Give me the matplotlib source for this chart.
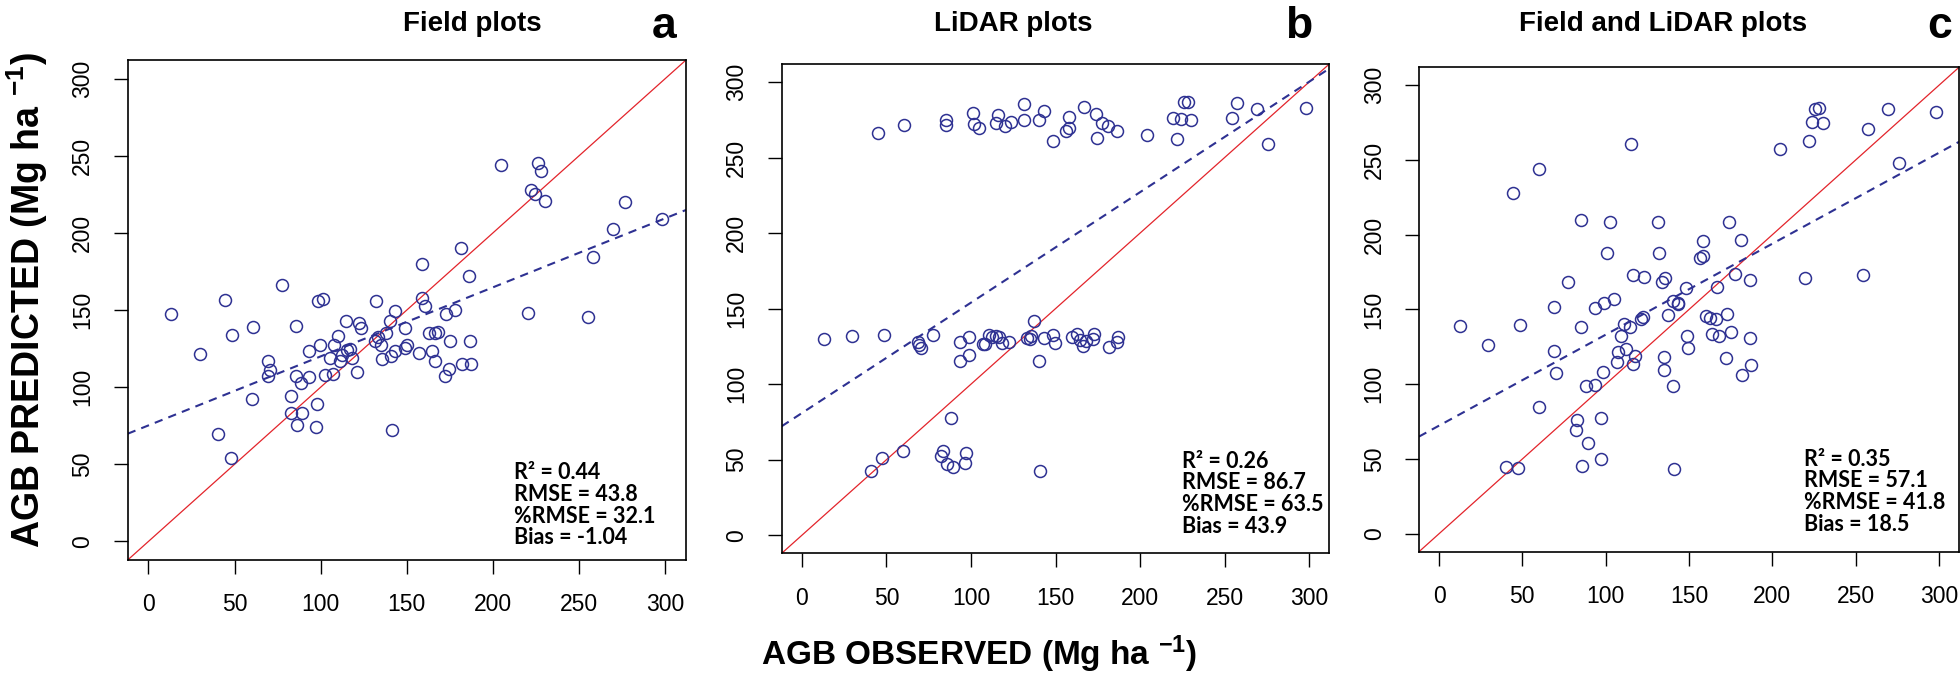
import matplotlib
matplotlib.use("Agg")
import matplotlib.pyplot as plt

# --- data (observed vs predicted AGB, Mg/ha) ---
obs_a = [12.9, 29.7, 40.6, 44.7, 47.7, 48.8, 60.0, 60.6, 69.4, 70.3, 69.2, 77.6,
         82.5, 83.0, 85.5, 85.5, 86.0, 88.3, 89.4, 93.5, 93.5, 97.1, 97.8, 98.6,
         99.5, 101.2, 102.3, 105.3, 107.2, 107.7, 109.8, 111.1, 112.2, 114.8, 115.2,
         116.9, 118.0, 120.8, 122.5, 123.6, 132.0, 131.5, 133.5, 135.0, 135.6, 138.0,
         140.1, 140.8, 141.4, 143.1, 143.3, 148.7, 148.7, 150.2, 156.9, 158.6, 158.6,
         160.5, 162.9, 164.4, 166.3, 166.6, 168.1, 172.4, 173.0, 174.5, 175.2, 178.0,
         181.6, 181.8, 186.3, 186.5, 187.2, 204.6, 220.1, 221.8, 224.4, 226.1, 227.8,
         230.4, 255.1, 258.1, 269.5, 276.4, 298.3]
pred_a = [147.7, 121.5, 69.8, 156.8, 53.9, 133.5, 92.6, 139.0, 117.2, 111.1, 107.5, 166.0,
          94.5, 83.0, 139.5, 107.0, 75.8, 102.7, 83.0, 123.2, 106.6, 74.3, 88.8, 155.6,
          127.3, 157.3, 108.0, 118.8, 108.7, 127.5, 133.0, 116.7, 120.8, 142.6, 123.9,
          124.6, 118.8, 109.7, 141.7, 138.6, 155.9, 129.9, 132.8, 127.0, 118.4, 135.2,
          143.1, 120.3, 72.2, 123.2, 149.1, 138.1, 125.6, 127.0, 122.2, 179.5, 157.8,
          152.3, 135.0, 123.2, 135.4, 116.7, 135.7, 107.5, 147.2, 111.9, 129.9, 149.9,
          190.3, 115.2, 172.2, 129.9, 115.0, 244.2, 148.2, 227.8, 225.4, 245.4, 239.8,
          220.6, 145.5, 184.3, 202.5, 219.9, 208.8]

obs_b = [44.8, 60.5, 85.4, 85.4, 100.9, 102.0, 105.0, 114.8, 115.9, 120.3, 123.6, 131.4,
         131.4, 140.0, 143.0, 148.3, 156.3, 158.1, 158.1, 166.6, 174.0, 174.7, 177.3,
         181.2, 186.2, 204.4, 219.7, 221.8, 224.0, 226.0, 228.2, 229.9, 254.4, 257.6,
         269.0, 275.8, 298.0,
         13.1, 29.7, 48.7, 68.8, 69.4, 70.5, 77.5, 93.2, 93.2, 98.7, 98.7, 107.2, 108.5,
         110.7, 112.4, 114.6, 116.4, 118.1, 122.5, 133.4, 134.7, 135.6, 137.3, 140.0,
         143.0, 148.7, 149.6, 159.6, 162.7, 164.4, 166.2, 168.3, 172.7, 172.3, 181.4,
         186.2, 186.9,
         40.6, 47.6, 60.0, 88.0, 82.5, 83.2, 85.8, 89.3, 97.2, 96.7, 141.0]
pred_b = [266.0, 271.6, 275.1, 271.4, 279.7, 272.6, 269.7, 273.1, 278.2, 271.1, 273.3, 285.8,
          274.6, 274.6, 280.9, 260.9, 267.7, 269.4, 277.0, 283.6, 279.2, 262.8, 273.1,
          270.9, 267.7, 264.8, 276.3, 262.6, 275.6, 286.6, 286.6, 275.1, 276.0, 286.1,
          282.2, 259.2, 283.0,
          130.1, 132.0, 132.3, 127.6, 125.9, 124.0, 132.8, 127.9, 115.4, 131.3, 119.3,
          126.9, 126.9, 132.5, 131.5, 132.0, 131.3, 127.1, 127.6, 130.8, 129.6, 132.0,
          141.8, 115.6, 130.8, 132.5, 127.1, 131.5, 133.3, 129.1, 125.2, 128.9, 133.0,
          130.1, 124.4, 127.6, 131.3,
          42.8, 51.3, 55.7, 77.8, 52.6, 55.5, 47.2, 45.2, 54.3, 47.7, 42.8]

obs_c = [12.6, 29.5, 40.3, 44.4, 47.4, 48.4, 59.7, 60.2, 68.8, 69.1, 70.1, 77.4, 82.4,
         82.7, 85.2, 85.2, 85.5, 88.2, 89.2, 93.3, 93.3, 97.1, 97.3, 98.6, 99.1, 100.8,
         102.3, 105.1, 106.9, 107.1, 109.4, 110.9, 112.2, 114.7, 114.9, 116.2, 116.5,
         117.7, 121.0, 122.3, 123.0, 131.3, 131.8, 133.9, 134.9, 135.1, 135.6, 137.6,
         140.2, 140.2, 141.2, 143.2, 143.4, 148.2, 148.7, 149.5, 156.8, 158.3, 158.6,
         160.1, 162.8, 163.9, 166.4, 166.9, 167.9, 171.9, 172.7, 173.9, 174.9, 177.7,
         181.0, 181.7, 186.3, 186.3, 187.0, 204.4, 219.8, 221.8, 223.8, 225.6, 227.9,
         230.1, 254.6, 257.6, 269.2, 276.0, 298.0]
pred_c = [139.1, 126.5, 44.6, 227.7, 43.8, 139.6, 84.9, 244.1, 151.7, 122.5, 107.4, 168.1,
          69.6, 76.2, 138.6, 210.1, 45.3, 98.8, 60.6, 99.5, 151.0, 49.8, 77.2, 108.4,
          154.5, 188.1, 208.2, 157.2, 115.1, 121.3, 132.2, 140.1, 123.8, 138.1, 260.6,
          173.0, 113.6, 119.1, 143.6, 144.8, 171.8, 208.2, 187.9, 168.3, 118.1, 109.7,
          171.3, 146.0, 155.9, 99.0, 43.3, 153.7, 154.5, 164.1, 132.2, 124.3, 184.4,
          195.8, 185.6, 145.8, 144.6, 133.7, 143.6, 164.9, 132.4, 117.3, 147.0, 208.2,
          134.7, 173.8, 196.3, 105.9, 169.6, 130.9, 112.6, 257.2, 170.8, 262.9, 275.2,
          284.4, 285.1, 274.5, 172.8, 270.5, 284.2, 248.0, 281.9]

# regression lines (intercept, slope)
fit_a = (75.2, 0.4475)
fit_b = (80.9, 0.731)
fit_c = (72.3, 0.6085)

titles = ["Field plots", "LiDAR plots", "Field and LiDAR plots"]
letters = ["a", "b", "c"]
stats = [
    ["R\u00b2 = 0.44", "RMSE = 43.8", "%RMSE = 32.1", "Bias = -1.04"],
    ["R\u00b2 = 0.26", "RMSE = 86.7", "%RMSE = 63.5", "Bias = 43.9"],
    ["R\u00b2 = 0.35", "RMSE = 57.1", "%RMSE = 41.8", "Bias = 18.5"],
]
ticks = [0, 50, 100, 150, 200, 250, 300]

# layout, pixels of a 1960x686 canvas
W, H = 1960, 686
boxes = [(127.7, 60, 686, 560), (781.7, 64, 1329.3, 553.3), (1419, 67.3, 1959, 551.7)]
stat_pos = [(212, 23.5), (225, 27.5), (219, 28.2)]
title_x = [472, 1013, 1663]
letter_x = [664, 1299, 1940]

plt.rcParams["font.family"] = ["Liberation Sans", "DejaVu Sans"]
plt.rcParams["mathtext.fontset"] = "custom"
plt.rcParams["mathtext.bf"] = "Liberation Sans:bold"
plt.rcParams["mathtext.rm"] = "Liberation Sans"
plt.rcParams["mathtext.default"] = "bf"

blue = "#2E3192"
red = "#E3242B"

fig = plt.figure(figsize=(W / 100, H / 100), dpi=100)

datasets = [(obs_a, pred_a, fit_a), (obs_b, pred_b, fit_b), (obs_c, pred_c, fit_c)]
for i, (x, y, fit) in enumerate(datasets):
    l, t, r, b = boxes[i]
    ax = fig.add_axes([l / W, 1 - b / H, (r - l) / W, (b - t) / H])
    ax.plot(x, y, "o", ms=8.6, mfc="none", mec=blue, mew=1.1, zorder=3)
    ax.axline((0, 0), slope=1, color=red, lw=0.9)
    ax.axline((0, fit[0]), slope=fit[1], color=blue, lw=1.5, ls=(0, (4, 3)))
    ax.set_xlim(-12, 312)
    ax.set_ylim(-12, 312)
    ax.set_xticks(ticks)
    ax.set_yticks(ticks)
    ax.tick_params(direction="out", length=10, width=1.0, labelsize=16.5, pad=14)
    for lab in ax.get_yticklabels():
        lab.set_rotation(90)
        lab.set_va("center")
    for s in ax.spines.values():
        s.set_linewidth(1.2)
    sx, sy = stat_pos[i]
    ax.text(sx, sy, "\n".join(stats[i]), ha="left", va="center",
            family=["Lato", "DejaVu Sans"], fontweight="bold", fontsize=15.5,
            linespacing=1.04)
    fig.text(title_x[i] / W, 1 - 24 / H, titles[i], ha="center", va="center",
             fontsize=20, fontweight="bold")
    fig.text(letter_x[i] / W, 1 - 27 / H, letters[i], ha="center", va="center",
             fontsize=32, fontweight="bold")

fig.text(27 / W, 1 - 300 / H, "AGB PREDICTED (Mg ha $^{-1}$)", rotation=90,
         ha="center", va="center", fontsize=27, fontweight="bold")
fig.text(979 / W, 1 - 654 / H, "AGB OBSERVED (Mg ha $^{-1}$)",
         ha="center", va="center", fontsize=24, fontweight="bold")

fig.savefig("out.png", dpi=100)
